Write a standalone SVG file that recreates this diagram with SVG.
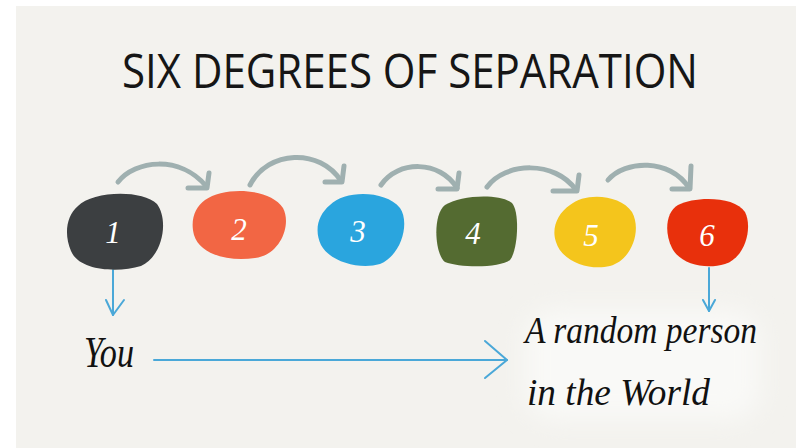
<svg xmlns="http://www.w3.org/2000/svg" width="798" height="448" viewBox="0 0 798 448">
  <defs>
    <style>
      .title { font-family: "Open Sans", "Liberation Sans", sans-serif; font-size: 48px; fill: #161616; }
      .num { font-family: "Liberation Serif", "DejaVu Serif", serif; font-style: italic; font-size: 31px; fill: #ffffff; text-anchor: middle; }
      .hand { font-family: "Liberation Serif", "DejaVu Serif", serif; font-style: italic; fill: #111111; }
      .hop { fill: none; stroke: #9fb0b0; stroke-width: 5; stroke-linecap: round; stroke-linejoin: round; }
      .blue { fill: none; stroke: #4aa8d8; stroke-width: 2; stroke-linecap: round; stroke-linejoin: round; }
    </style>
    <filter id="soft" filterUnits="userSpaceOnUse" x="460" y="250" width="336" height="198">
      <feGaussianBlur stdDeviation="12"/>
    </filter>
  </defs>

  <rect x="0" y="0" width="798" height="448" fill="#ffffff"/>
  <rect x="16" y="6" width="780" height="442" fill="#f3f2ee"/>

  <rect x="525" y="310" width="235" height="110" rx="30" fill="#f9f9f7" filter="url(#soft)"/>

  <text class="title" x="122" y="88" textLength="576" lengthAdjust="spacingAndGlyphs">SIX DEGREES OF SEPARATION</text>

  <g id="connectors">
    <path class="hop" d="M118,182 C135,160 180,155 206,186"/>
    <path class="hop" d="M188,188 L207,188 L209,173"/>
    <path class="hop" d="M250,185 C268,150 320,148 341,181"/>
    <path class="hop" d="M325,182 L342,182 L344,166"/>
    <path class="hop" d="M381,185 C398,160 440,160 457,188"/>
    <path class="hop" d="M438,189 L457,189 L459,173"/>
    <path class="hop" d="M487,187 C505,162 555,160 576,190"/>
    <path class="hop" d="M553,191 L577,191 L579,175"/>
    <path class="hop" d="M608,180 C625,160 670,158 689,188"/>
    <path class="hop" d="M672,189 L690,189 L691,166"/>

    <path class="blue" d="M113,270 L113,315"/>
    <path class="blue" d="M106,300 L113,315 L124,300"/>
    <path class="blue" d="M709,268 L709,311"/>
    <path class="blue" d="M703,300 L709,311 L715,300"/>
    <path class="blue" d="M154,360 L507,360"/>
    <path class="blue" d="M485,341 L507,360 L485,378"/>
  </g>

  <g id="node1">
    <path d="M78,206 C92,191 142,189 157,204 C169,220 163,256 141,266 C118,273 79,271 71,251 C64,235 66,216 78,206 Z" fill="#3c3f41"/>
    <text class="num" x="113" y="243">1</text>
  </g>
  <g id="node2">
    <path d="M205,200 C225,186 270,188 283,208 C292,225 280,255 255,258 C230,262 200,255 194,235 C190,220 195,207 205,200 Z" fill="#f26644"/>
    <text class="num" x="239" y="240">2</text>
  </g>
  <g id="node3">
    <path d="M330,205 C345,190 385,190 400,208 C410,222 402,255 380,264 C360,270 330,262 321,245 C314,230 318,215 330,205 Z" fill="#2aa5de"/>
    <text class="num" x="358" y="242">3</text>
  </g>
  <g id="node4">
    <path d="M445,205 C460,195 500,193 512,203 C520,212 518,250 510,260 C500,268 460,268 445,262 C435,255 432,215 445,205 Z" fill="#546b31"/>
    <text class="num" x="473" y="244">4</text>
  </g>
  <g id="node5">
    <path d="M570,205 C585,192 620,194 632,212 C642,230 632,260 610,266 C590,271 562,262 556,242 C551,228 558,213 570,205 Z" fill="#f4c51c"/>
    <text class="num" x="591" y="246">5</text>
  </g>
  <g id="node6">
    <path d="M678,205 C695,196 735,196 745,212 C753,228 745,258 725,264 C705,270 680,264 672,248 C664,232 666,212 678,205 Z" fill="#e8300c"/>
    <text class="num" x="707" y="246">6</text>
  </g>

  <g id="you">
    <text class="hand" x="84" y="367" font-size="44" textLength="50" lengthAdjust="spacingAndGlyphs">You</text>
  </g>
  <g id="random-person">
    <text class="hand" x="525" y="343" font-size="38" textLength="232" lengthAdjust="spacingAndGlyphs">A random person</text>
    <text class="hand" x="527" y="405" font-size="38" textLength="183" lengthAdjust="spacingAndGlyphs">in the World</text>
  </g>
</svg>
